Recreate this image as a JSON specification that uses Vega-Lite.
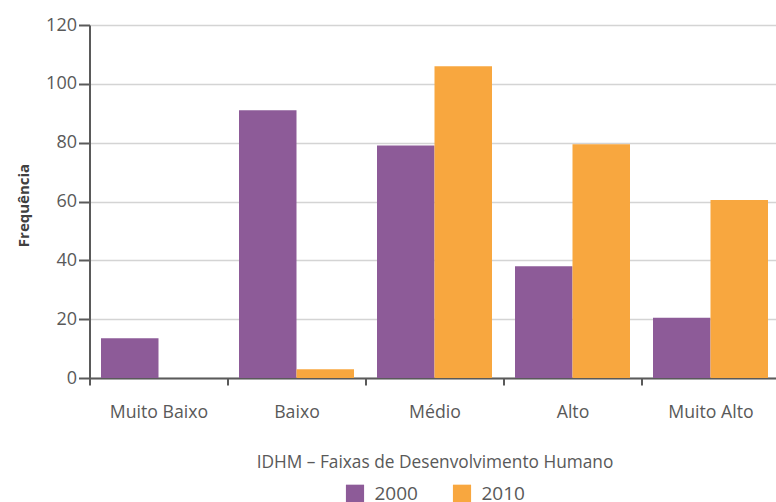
{
  "$schema": "https://vega.github.io/schema/vega-lite/v6.json",
  "autosize": {"type": "none"},
  "padding": {"left": 89.5, "top": 25, "right": 0, "bottom": 124},
  "width": 686.5,
  "height": 353,
  "background": "white",
  "config": {
    "view": {"stroke": null},
    "font": "Open Sans"
  },
  "data": {
    "values": [
      {"faixa": "Muito Baixo", "ano": "2000", "freq": 13.5},
      {"faixa": "Muito Baixo", "ano": "2010", "freq": 0},
      {"faixa": "Baixo", "ano": "2000", "freq": 91},
      {"faixa": "Baixo", "ano": "2010", "freq": 3},
      {"faixa": "Médio", "ano": "2000", "freq": 79},
      {"faixa": "Médio", "ano": "2010", "freq": 106},
      {"faixa": "Alto", "ano": "2000", "freq": 38},
      {"faixa": "Alto", "ano": "2010", "freq": 79.5},
      {"faixa": "Muito Alto", "ano": "2000", "freq": 20.5},
      {"faixa": "Muito Alto", "ano": "2010", "freq": 60.5}
    ]
  },
  "mark": {"type": "bar"},
  "encoding": {
    "x": {
      "field": "faixa",
      "type": "nominal",
      "sort": ["Muito Baixo", "Baixo", "Médio", "Alto", "Muito Alto"],
      "scale": {"range": [0, 690], "paddingInner": 0, "paddingOuter": 0},
      "axis": {
        "title": "IDHM – Faixas de Desenvolvimento Humano",
        "tickBand": "extent",
        "tickSize": 7,
        "tickWidth": 2,
        "tickColor": "#5a5a5a",
        "domainColor": "#5a5a5a",
        "domainWidth": 2,
        "labelAngle": 0,
        "labelPadding": 18,
        "labelFontSize": 17.7,
        "labelColor": "#595959",
        "titleFontSize": 17.3,
        "titleFontWeight": "normal",
        "titleColor": "#595959",
        "titlePadding": 33
      }
    },
    "xOffset": {
      "field": "ano",
      "type": "nominal",
      "scale": {"paddingInner": 0, "paddingOuter": 0.2}
    },
    "y": {
      "field": "freq",
      "type": "quantitative",
      "scale": {"domain": [0, 120]},
      "axis": {
        "title": "Frequência",
        "values": [0, 20, 40, 60, 80, 100, 120],
        "tickSize": 11,
        "tickWidth": 2,
        "tickColor": "#5a5a5a",
        "domainColor": "#5a5a5a",
        "domainWidth": 2,
        "labelPadding": 2,
        "labelFontSize": 18,
        "labelColor": "#595959",
        "gridColor": "#d4d4d4",
        "gridWidth": 1.5,
        "titleFontSize": 15,
        "titleFontWeight": "bold",
        "titleColor": "#404040",
        "titlePadding": 14,
        "titleY": 180
      }
    },
    "color": {
      "field": "ano",
      "type": "nominal",
      "scale": {"range": ["#8D5B98", "#F8A73F"]},
      "legend": {
        "title": null,
        "orient": "none",
        "legendX": 256,
        "legendY": 459,
        "direction": "horizontal",
        "symbolType": "square",
        "symbolSize": 330,
        "symbolStrokeWidth": 0,
        "labelFontSize": 19,
        "labelColor": "#595959",
        "labelOffset": 10,
        "columnPadding": 34
      }
    }
  }
}
